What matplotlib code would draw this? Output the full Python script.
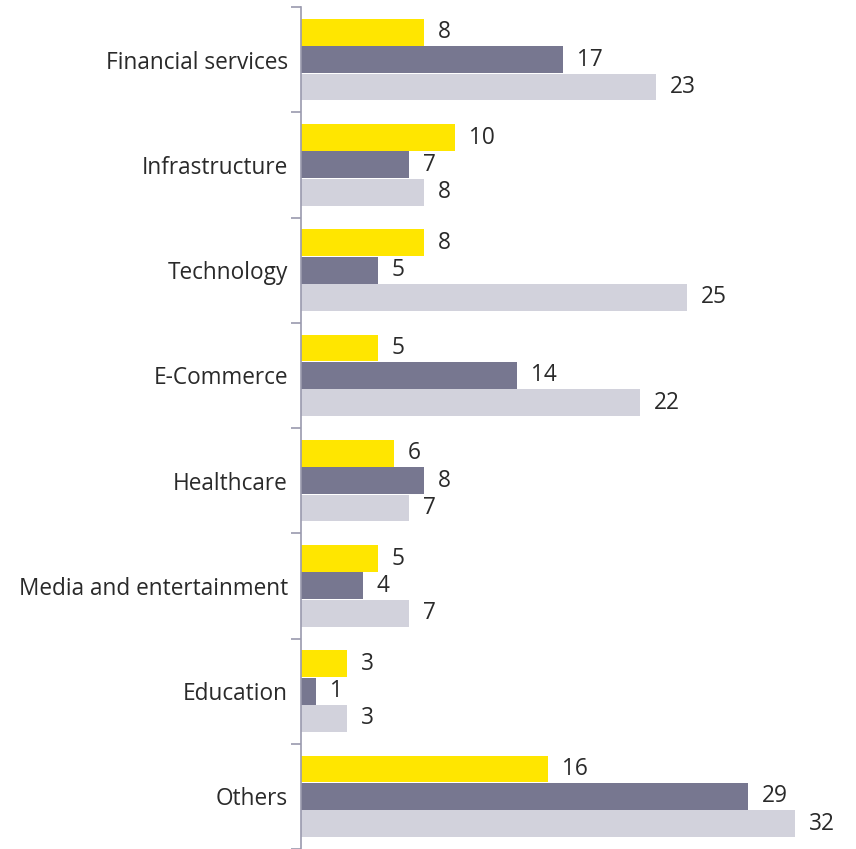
import matplotlib
matplotlib.use("Agg")
import matplotlib.pyplot as plt
import numpy as np

categories = ["Financial services", "Infrastructure", "Technology", "E-Commerce",
              "Healthcare", "Media and entertainment", "Education", "Others"]
series_yellow = [8, 10, 8, 5, 6, 5, 3, 16]
series_dark = [17, 7, 5, 14, 8, 4, 1, 29]
series_light = [23, 8, 25, 22, 7, 7, 3, 32]

colors = ["#FFE600", "#777790", "#D2D2DC"]
plt.rcParams['font.family'] = ['Open Sans', 'DejaVu Sans']

W, H = 856, 849
fig = plt.figure(figsize=(W / 100, H / 100), dpi=100)
x0 = 301
top = 7
ax = fig.add_axes([x0 / W, 0, (W - x0) / W, (H - top) / H])
px_per_unit = 15.43
ax.set_xlim(0, (W - x0) / px_per_unit)
n = len(categories)
ax.set_ylim(n, 0)

fs = 16.3
bh = 0.26
y = np.arange(n) + 0.5
for i, (vals, c) in enumerate(zip([series_yellow, series_dark, series_light], colors)):
    pos = y + (i - 1) * bh
    ax.barh(pos, vals, height=bh - 0.005, color=c, align='center')
    for p, v in zip(pos, vals):
        ax.text(v + 0.9, p, str(v), va='center', ha='left', fontsize=fs,
                color='#2a2a2a')

ax.set_yticks(np.arange(n + 1), minor=False)
ax.set_yticklabels([])
ax.set_yticks(y, minor=True)
ax.set_yticklabels(categories, minor=True, fontsize=fs, color='#2a2a2a')
ax.tick_params(axis='y', which='major', length=7, color='#9A9AAE', width=1.2)
ax.tick_params(axis='y', which='minor', length=0, pad=9.5)
ax.set_xticks([])
for s in ['top', 'right', 'bottom']:
    ax.spines[s].set_visible(False)
ax.spines['left'].set_color('#9A9AAE')
ax.spines['left'].set_linewidth(1.2)

fig.savefig("out.png", dpi=100)
